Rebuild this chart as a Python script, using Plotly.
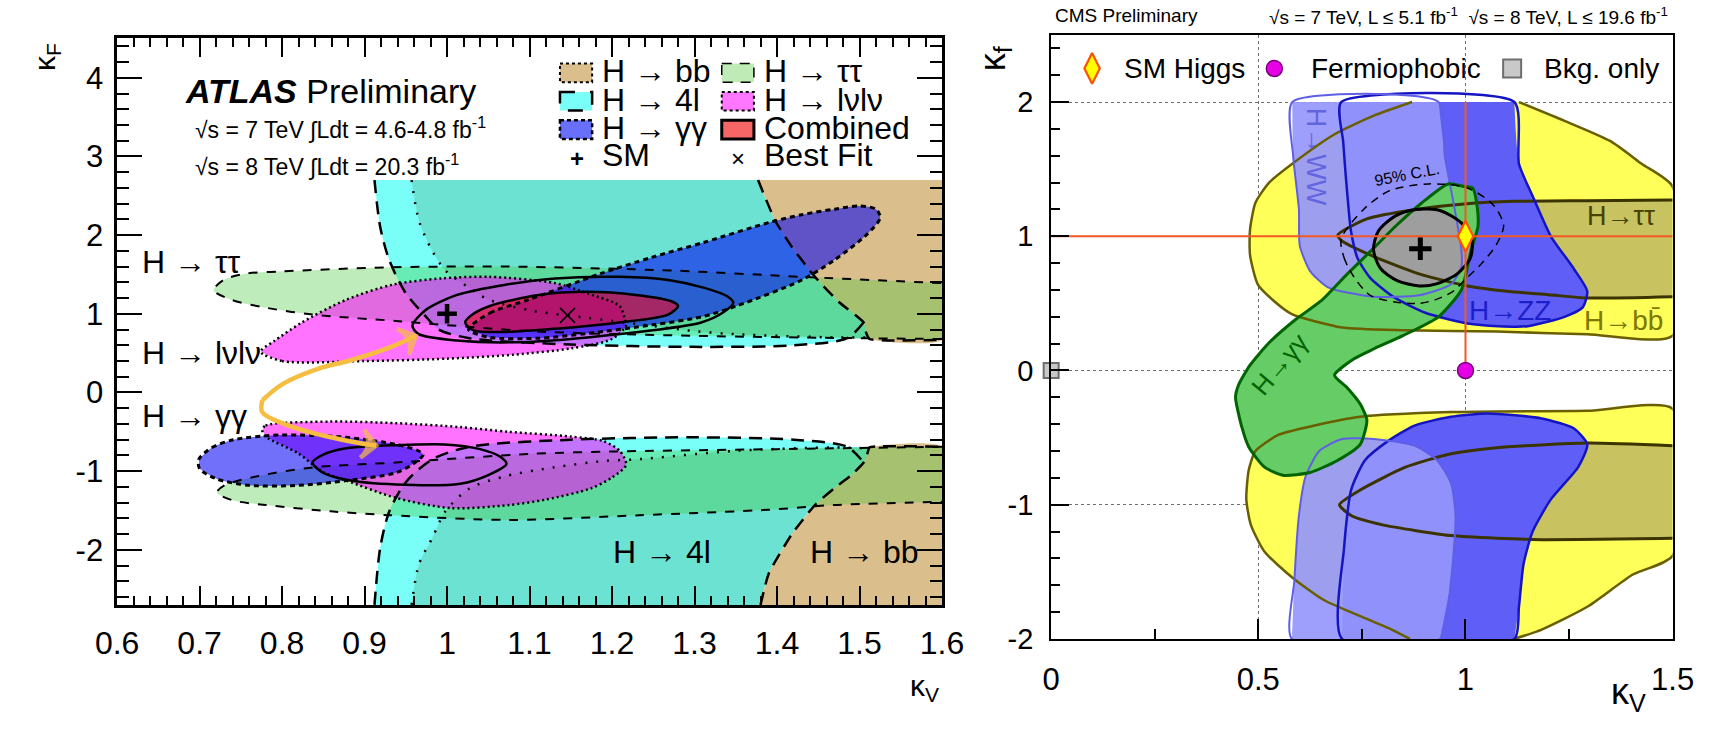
import plotly.graph_objects as go

W, H = 1731, 729
FONT = "Liberation Sans, Arial, sans-serif"

# ---------------- ATLAS: kappa_V (x) vs kappa_F (y) contour vertices ----------------
ATLAS_BB_UP = [(1.377, 2.70), (1.398, 2.18), (1.418, 1.85), (1.446, 1.47), (1.475, 1.15),
               (1.505, 0.89), (1.508, 0.76), (1.512, 0.68), (1.600, 0.67)]
ATLAS_BB_DN = [(1.380, -2.70), (1.390, -2.30), (1.418, -1.80), (1.446, -1.43), (1.469, -1.22),
               (1.490, -1.05), (1.505, -0.89), (1.510, -0.76), (1.512, -0.70), (1.600, -0.69)]
ATLAS_4L95_UP = [(0.912, 2.70), (0.919, 2.10), (0.930, 1.68), (0.950, 1.26), (0.973, 0.98),
                 (0.990, 0.80), (1.027, 0.69), (1.150, 0.61), (1.296, 0.58), (1.420, 0.60),
                 (1.485, 0.69), (1.505, 0.89)]
ATLAS_4L95_DN = [(0.912, -2.70), (0.919, -1.97), (0.930, -1.51), (0.950, -1.14), (0.982, -0.85),
                 (1.027, -0.69), (1.150, -0.60), (1.296, -0.57), (1.420, -0.60), (1.485, -0.69),
                 (1.505, -0.89)]
ATLAS_4L68_UP = [(0.957, 2.70), (0.966, 2.18), (0.982, 1.80), (0.998, 1.55), (1.024, 1.35),
                 (1.050, 1.18), (1.103, 1.04), (1.170, 0.95), (1.230, 0.87), (1.300, 0.78),
                 (1.351, 0.74), (1.469, 0.70), (1.510, 0.70)]
ATLAS_4L68_DN = [(0.957, -2.70), (0.966, -2.18), (0.982, -1.85), (0.998, -1.51), (1.027, -1.22),
                 (1.072, -1.06), (1.130, -0.95), (1.190, -0.87), (1.229, -0.85), (1.351, -0.74),
                 (1.469, -0.70), (1.510, -0.71)]
ATLAS_TT_UP = [(1.600, 0.68), (1.500, 0.69), (1.300, 0.72), (1.100, 0.78), (0.937, 0.91),
               (0.837, 0.99), (0.779, 1.08), (0.738, 1.18), (0.717, 1.30), (0.729, 1.43),
               (0.756, 1.51), (0.801, 1.54), (0.925, 1.59), (1.075, 1.60), (1.273, 1.55),
               (1.430, 1.47), (1.600, 1.39)]
ATLAS_TT_DN = [(1.600, -0.69), (1.400, -0.72), (1.200, -0.75), (1.100, -0.78), (0.938, -0.89),
               (0.839, -0.95), (0.772, -1.06), (0.730, -1.18), (0.721, -1.27), (0.740, -1.37),
               (0.780, -1.43), (0.859, -1.51), (0.930, -1.56), (1.075, -1.62), (1.233, -1.56),
               (1.390, -1.49), (1.469, -1.43), (1.600, -1.39)]
ATLAS_LL_UP = [(0.774, 0.52), (0.800, 0.40), (0.900, 0.40), (1.000, 0.43), (1.080, 0.48),
               (1.150, 0.56), (1.200, 0.68), (1.217, 0.85), (1.215, 0.95), (1.209, 1.10),
               (1.170, 1.26), (1.131, 1.39), (1.052, 1.47), (0.993, 1.45), (0.934, 1.37),
               (0.878, 1.18), (0.824, 0.89), (0.790, 0.65)]
ATLAS_LL_DN = [(0.776, -0.48), (0.780, -0.42), (0.859, -0.37), (0.938, -0.39), (1.016, -0.44),
               (1.075, -0.50), (1.150, -0.56), (1.190, -0.62), (1.210, -0.75), (1.217, -0.92),
               (1.200, -1.08), (1.174, -1.22), (1.120, -1.36), (1.075, -1.43), (1.005, -1.47),
               (0.938, -1.34), (0.878, -1.12), (0.851, -1.02), (0.819, -0.77), (0.780, -0.56)]
ATLAS_GG_UP = [(1.026, 0.80), (1.052, 1.01), (1.099, 1.18), (1.186, 1.51), (1.249, 1.72),
               (1.312, 1.91), (1.390, 2.16), (1.430, 2.26), (1.470, 2.33), (1.500, 2.37),
               (1.520, 2.33), (1.525, 2.22), (1.509, 2.01), (1.469, 1.68), (1.430, 1.43),
               (1.351, 1.10), (1.308, 0.96), (1.249, 0.86), (1.170, 0.75), (1.111, 0.69),
               (1.052, 0.70)]
ATLAS_GG_DN = [(0.699, -0.85), (0.715, -0.70), (0.741, -0.60), (0.800, -0.54), (0.878, -0.57),
               (0.938, -0.66), (0.965, -0.74), (0.971, -0.79), (0.960, -0.90), (0.938, -1.02),
               (0.878, -1.12), (0.819, -1.18), (0.760, -1.18), (0.721, -1.10), (0.700, -0.97)]
ATLAS_COMB95_UP = [(0.958, 0.85), (0.973, 1.04), (1.012, 1.24), (1.071, 1.37), (1.131, 1.45),
                   (1.209, 1.47), (1.268, 1.43), (1.312, 1.33), (1.340, 1.22), (1.347, 1.14),
                   (1.335, 1.02), (1.308, 0.89), (1.249, 0.79), (1.170, 0.70), (1.091, 0.64),
                   (1.012, 0.66), (0.965, 0.745)]
ATLAS_COMB68_UP = [(1.022, 0.89), (1.032, 1.00), (1.052, 1.10), (1.111, 1.24), (1.170, 1.28),
                   (1.229, 1.24), (1.272, 1.16), (1.280, 1.10), (1.268, 0.99), (1.209, 0.89),
                   (1.131, 0.81), (1.071, 0.77), (1.032, 0.79)]
ATLAS_COMB95_DN = [(0.837, -0.89), (0.850, -0.79), (0.878, -0.71), (0.938, -0.67), (0.997, -0.66),
                   (1.040, -0.72), (1.065, -0.82), (1.072, -0.91), (1.050, -1.05), (1.016, -1.16),
                   (0.938, -1.17), (0.878, -1.11), (0.848, -1.01)]
# orange connector: two branches leaving the loop of the "S"
ATLAS_ARROW_UP = [(0.776, -0.10), (0.801, 0.11), (0.846, 0.31), (0.880, 0.40), (0.925, 0.55),
                  (0.950, 0.66), (0.962, 0.72)]
ATLAS_ARROW_DN = [(0.776, -0.10), (0.776, -0.25), (0.800, -0.39), (0.839, -0.52), (0.882, -0.62),
                  (0.900, -0.655), (0.914, -0.675)]
ATLAS_SM = (1.0, 1.0)
ATLAS_BEST = (1.146, 0.98)

ATLAS_XTICKS = [0.6, 0.7, 0.8, 0.9, 1.0, 1.1, 1.2, 1.3, 1.4, 1.5, 1.6]
ATLAS_XLABELS = ["0.6", "0.7", "0.8", "0.9", "1", "1.1", "1.2", "1.3", "1.4", "1.5", "1.6"]
ATLAS_YTICKS = [-2, -1, 0, 1, 2, 3, 4]
ATLAS_YLABELS = ["-2", "-1", "0", "1", "2", "3", "4"]

# ---------------- CMS: kappa_V (x) vs kappa_f (y) contour vertices ----------------
CMS_BB_UP = [(1.129, 2.00), (1.239, 1.86), (1.349, 1.71), (1.425, 1.54), (1.500, 1.37),
             (1.500, 0.26), (1.294, 0.27), (1.075, 0.29), (0.855, 0.30), (0.702, 0.32),
             (0.581, 0.42), (0.537, 0.52), (0.499, 0.64), (0.480, 0.86), (0.480, 1.05),
             (0.493, 1.25), (0.526, 1.40), (0.582, 1.54), (0.684, 1.76), (0.780, 1.90),
             (0.871, 2.00)]
CMS_BB_DN = [(1.118, -2.00), (1.184, -1.93), (1.294, -1.76), (1.404, -1.52), (1.500, -1.38),
             (1.500, -0.285), (1.294, -0.30), (0.965, -0.31), (0.746, -0.345), (0.636, -0.41),
             (0.548, -0.48), (0.493, -0.60), (0.477, -0.74), (0.471, -0.96), (0.482, -1.15),
             (0.515, -1.35), (0.581, -1.54), (0.658, -1.71), (0.746, -1.83), (0.822, -1.93),
             (0.866, -2.00)]
CMS_TT_UP = [(1.500, 1.27), (1.294, 1.265), (1.115, 1.26), (0.997, 1.24), (0.880, 1.20),
             (0.762, 1.13), (0.692, 1.01), (0.700, 0.97), (0.778, 0.85), (0.888, 0.72),
             (1.005, 0.63), (1.100, 0.59), (1.200, 0.565), (1.294, 0.54), (1.500, 0.55)]
CMS_TT_DN = [(1.500, -0.56), (1.294, -0.54), (1.075, -0.575), (0.965, -0.62), (0.855, -0.72),
             (0.746, -0.89), (0.696, -1.00), (0.724, -1.08), (0.800, -1.15), (0.965, -1.23),
             (1.075, -1.25), (1.184, -1.26), (1.500, -1.25)]
CMS_WW_UP = [(0.582, 2.00), (0.584, 1.60), (0.598, 1.20), (0.600, 0.93), (0.625, 0.74),
             (0.668, 0.62), (0.778, 0.55), (0.888, 0.56), (0.966, 0.645), (0.990, 0.77),
             (0.990, 0.90), (0.974, 1.20), (0.950, 1.60), (0.935, 2.00)]
CMS_WW_DN = [(0.581, -2.00), (0.587, -1.565), (0.598, -1.08), (0.614, -0.79), (0.647, -0.60),
             (0.702, -0.51), (0.779, -0.51), (0.877, -0.56), (0.932, -0.67), (0.965, -0.84),
             (0.976, -1.08), (0.965, -1.565), (0.938, -2.00)]
CMS_ZZ_UP = [(0.700, 2.00), (0.705, 1.70), (0.711, 1.45), (0.718, 1.20), (0.723, 1.05),
             (0.739, 0.84), (0.770, 0.69), (0.825, 0.55), (0.903, 0.43), (1.005, 0.35),
             (1.080, 0.33), (1.150, 0.33), (1.239, 0.40), (1.283, 0.47), (1.294, 0.59),
             (1.261, 0.76), (1.206, 1.00), (1.162, 1.30), (1.129, 1.54), (1.118, 2.00)]
CMS_ZZ_DN = [(0.702, -2.00), (0.707, -1.32), (0.724, -0.89), (0.757, -0.67), (0.811, -0.53),
             (0.877, -0.41), (0.965, -0.345), (1.053, -0.32), (1.184, -0.357), (1.261, -0.43),
             (1.294, -0.55), (1.272, -0.72), (1.206, -0.96), (1.162, -1.20), (1.140, -1.445),
             (1.129, -1.76), (1.118, -2.00)]
CMS_GG = [(0.958, 1.39), (0.997, 1.37), (1.017, 1.36), (1.029, 1.20), (1.030, 1.07),
          (1.013, 0.89), (0.990, 0.60), (0.935, 0.40), (0.849, 0.26), (0.778, 0.16),
          (0.731, 0.087), (0.684, -0.035), (0.715, -0.13), (0.746, -0.25), (0.762, -0.37),
          (0.746, -0.55), (0.691, -0.67), (0.625, -0.76), (0.559, -0.78), (0.515, -0.72),
          (0.477, -0.57), (0.461, -0.43), (0.445, -0.20), (0.452, -0.11), (0.480, 0.04),
          (0.527, 0.21), (0.590, 0.38), (0.652, 0.52), (0.715, 0.72), (0.778, 0.91),
          (0.833, 1.08), (0.895, 1.25)]
CMS_COMB68 = [(0.778, 0.90), (0.790, 1.04), (0.830, 1.15), (0.880, 1.20), (0.940, 1.19),
              (0.990, 1.10), (1.015, 0.98), (1.012, 0.84), (0.980, 0.72), (0.930, 0.645),
              (0.888, 0.63), (0.835, 0.67), (0.795, 0.76)]
CMS_COMB95 = [(0.700, 0.98), (0.707, 0.84), (0.730, 0.70), (0.770, 0.56), (0.830, 0.51),
              (0.888, 0.50), (0.930, 0.53), (0.970, 0.59), (1.000, 0.68), (1.040, 0.80),
              (1.075, 0.94), (1.092, 1.08), (1.068, 1.23), (1.005, 1.36), (0.911, 1.39),
              (0.817, 1.34), (0.754, 1.20)]
CMS_SM = (1.0, 1.0)
CMS_FERMIOPHOBIC = (1.0, 0.0)
CMS_BKG = (0.0, 0.0)
CMS_BEST = (0.891, 0.907)

CMS_XTICKS = [0, 0.5, 1, 1.5]
CMS_XLABELS = ["0", "0.5", "1", "1.5"]
CMS_YTICKS = [-2, -1, 0, 1, 2]
CMS_YLABELS = ["-2", "-1", "0", "1", "2"]

# ---------------- colours ----------------
C_BB = "rgb(218,190,140)"
C_4L95 = "rgb(122,255,248)"
C_4L68 = "rgb(108,226,210)"
C_TT = "rgba(70,200,60,0.35)"
C_LL = "rgba(255,0,255,0.55)"
C_GG = "rgba(0,0,246,0.56)"
C_COMB = "rgba(235,10,40,0.64)"
C_ARROW = "rgb(246,189,65)"

Y_BB = "rgb(255,255,90)"
Y_BB_LINE = "rgb(105,95,0)"
Y_TT = "rgb(200,194,96)"
Y_TT_LINE = "rgb(60,52,0)"
Y_WW = "rgba(150,150,252,0.92)"
Y_WW_LINE = "rgb(95,95,230)"
Y_ZZ = "rgb(95,95,248)"
Y_ZZ_LINE = "rgb(20,20,195)"
Y_GG = "rgb(102,204,102)"
Y_GG_LINE = "rgb(0,100,0)"
Y_COMB = "rgb(158,158,158)"
Y_RED = "rgb(242,88,36)"


def xs(pts):
    return [p[0] for p in pts]


def ys(pts):
    return [p[1] for p in pts]


def loop(pts):
    return list(pts) + [pts[0]]


fig = go.Figure()


def add_fill(pts, color, panel, smooth=0.8):
    xa, ya = ("x", "y") if panel == 1 else ("x2", "y2")
    fig.add_trace(go.Scatter(x=xs(pts), y=ys(pts), mode="lines", fill="toself", fillcolor=color,
                             line=dict(width=0, shape="spline", smoothing=smooth),
                             hoverinfo="skip", xaxis=xa, yaxis=ya))


def add_line(pts, color, width, dash, panel, smooth=0.8):
    xa, ya = ("x", "y") if panel == 1 else ("x2", "y2")
    fig.add_trace(go.Scatter(x=xs(pts), y=ys(pts), mode="lines",
                             line=dict(color=color, width=width, dash=dash, shape="spline",
                                       smoothing=smooth),
                             hoverinfo="skip", xaxis=xa, yaxis=ya))


# ---- ATLAS fills ----
add_fill(ATLAS_4L95_UP + [p for p in reversed(ATLAS_BB_UP) if p[1] > 0.89], C_4L95, 1)
add_fill(ATLAS_4L95_DN + [p for p in reversed(ATLAS_BB_DN) if p[1] < -0.89], C_4L95, 1)
add_fill(ATLAS_4L68_UP + [p for p in reversed(ATLAS_BB_UP) if p[1] > 0.72], C_4L68, 1)
add_fill(ATLAS_4L68_DN + [p for p in reversed(ATLAS_BB_DN) if p[1] < -0.72], C_4L68, 1)
add_fill(ATLAS_BB_UP + [(1.6, 2.7)], C_BB, 1, 0.5)
add_fill(ATLAS_BB_DN + [(1.6, -2.7)], C_BB, 1, 0.5)
add_fill(ATLAS_TT_UP, C_TT, 1)
add_fill(ATLAS_TT_DN, C_TT, 1)
add_fill(ATLAS_LL_UP, C_LL, 1)
add_fill(ATLAS_LL_DN, C_LL, 1)
add_fill(ATLAS_GG_UP, C_GG, 1)
add_fill(ATLAS_GG_DN, C_GG, 1)
add_fill(ATLAS_COMB68_UP, C_COMB, 1)

# ---- ATLAS outlines ----
add_line(ATLAS_BB_UP, "black", 2.5, "13px,8px", 1, 0.5)
add_line(ATLAS_BB_DN, "black", 2.5, "13px,8px", 1, 0.5)
add_line(ATLAS_4L95_UP, "black", 2.5, "13px,8px", 1)
add_line(ATLAS_4L95_DN, "black", 2.5, "13px,8px", 1)
add_line(ATLAS_4L68_UP, "black", 2.5, "2px,9px", 1)
add_line(ATLAS_4L68_DN, "black", 2.5, "2px,9px", 1)
add_line(ATLAS_TT_UP, "black", 2, "9px,9px", 1)
add_line(ATLAS_TT_DN, "black", 2, "9px,9px", 1)
add_line(loop(ATLAS_LL_UP), "black", 2.5, "2px,3px", 1)
add_line(loop(ATLAS_LL_DN), "black", 2.5, "2px,3px", 1)
add_line(loop(ATLAS_GG_UP), "black", 3, "5px,4px", 1)
add_line(loop(ATLAS_GG_DN), "black", 3, "5px,4px", 1)
add_line(loop(ATLAS_COMB95_UP), "black", 2.5, "solid", 1)
add_line(loop(ATLAS_COMB68_UP), "black", 2.5, "solid", 1)
add_line(loop(ATLAS_COMB95_DN), "black", 2.5, "solid", 1)

# orange connector with an open chevron at the far end of each branch
for branch in (ATLAS_ARROW_UP, ATLAS_ARROW_DN):
    n = len(branch)
    fig.add_trace(go.Scatter(
        x=xs(branch), y=ys(branch), mode="lines+markers",
        line=dict(color=C_ARROW, width=4.5, shape="spline", smoothing=1.0),
        marker=dict(symbol="arrow-wide-open", angleref="previous", size=[0] * (n - 1) + [20],
                    color=C_ARROW, line=dict(width=4.5, color=C_ARROW)),
        hoverinfo="skip", xaxis="x", yaxis="y"))

fig.add_trace(go.Scatter(x=[ATLAS_SM[0]], y=[ATLAS_SM[1]], mode="markers",
                         marker=dict(symbol="cross-thin", size=14, line=dict(width=4.5, color="black")),
                         hoverinfo="skip", xaxis="x", yaxis="y"))
fig.add_trace(go.Scatter(x=[ATLAS_BEST[0]], y=[ATLAS_BEST[1]], mode="markers",
                         marker=dict(symbol="x-thin", size=15, line=dict(width=1.6, color="black")),
                         hoverinfo="skip", xaxis="x", yaxis="y"))

# ---- CMS fills ----
add_fill(CMS_BB_UP, Y_BB, 2, 0.6)
add_fill(CMS_BB_DN, Y_BB, 2, 0.6)
add_fill(CMS_TT_UP, Y_TT, 2, 0.6)
add_fill(CMS_TT_DN, Y_TT, 2, 0.6)
add_fill(CMS_ZZ_UP, Y_ZZ, 2, 0.6)
add_fill(CMS_ZZ_DN, Y_ZZ, 2, 0.6)
add_fill(CMS_WW_UP, Y_WW, 2, 0.6)
add_fill(CMS_WW_DN, Y_WW, 2, 0.6)
add_fill(CMS_GG, Y_GG, 2, 0.6)
add_fill(CMS_COMB68, Y_COMB, 2)

# ---- CMS outlines ----
add_line(CMS_BB_UP, Y_BB_LINE, 2.5, "solid", 2, 0.6)
add_line(CMS_BB_DN, Y_BB_LINE, 2.5, "solid", 2, 0.6)
add_line(CMS_TT_UP, Y_TT_LINE, 3, "solid", 2, 0.6)
add_line(CMS_TT_DN, Y_TT_LINE, 3, "solid", 2, 0.6)
add_line(loop(CMS_ZZ_UP), Y_ZZ_LINE, 2.5, "solid", 2, 0.6)
add_line(loop(CMS_ZZ_DN), Y_ZZ_LINE, 2.5, "solid", 2, 0.6)
add_line(loop(CMS_WW_UP), Y_WW_LINE, 2, "solid", 2, 0.6)
add_line(loop(CMS_WW_DN), Y_WW_LINE, 2, "solid", 2, 0.6)
add_line(loop(CMS_GG), Y_GG_LINE, 3, "solid", 2, 0.6)
add_line(loop(CMS_COMB68), "black", 3, "solid", 2)
add_line(loop(CMS_COMB95), "black", 1.5, "8px,6px", 2)

# SM reference lines
fig.add_trace(go.Scatter(x=[0, 1.5], y=[CMS_SM[1], CMS_SM[1]], mode="lines",
                         line=dict(color=Y_RED, width=2), hoverinfo="skip", xaxis="x2", yaxis="y2"))
fig.add_trace(go.Scatter(x=[CMS_SM[0], CMS_FERMIOPHOBIC[0]], y=[2.0, CMS_FERMIOPHOBIC[1]], mode="lines",
                         line=dict(color=Y_RED, width=2), hoverinfo="skip", xaxis="x2", yaxis="y2"))
fig.add_trace(go.Scatter(x=[CMS_BEST[0]], y=[CMS_BEST[1]], mode="markers",
                         marker=dict(symbol="cross-thin", size=16, line=dict(width=5, color="black")),
                         hoverinfo="skip", xaxis="x2", yaxis="y2"))

SM_MARK = dict(symbol="diamond-tall", size=22, color="rgb(255,255,0)", line=dict(width=2.2, color="rgb(255,80,0)"))
FP_MARK = dict(symbol="circle", size=16, color="rgb(230,0,230)", line=dict(width=1.5, color="rgb(120,0,120)"))
BKG_MARK = dict(symbol="square", size=15, color="rgb(200,200,200)", line=dict(width=2, color="rgb(110,110,110)"))

fig.add_trace(go.Scatter(x=[CMS_SM[0]], y=[CMS_SM[1]], mode="markers", marker=SM_MARK,
                         hoverinfo="skip", xaxis="x2", yaxis="y2"))
fig.add_trace(go.Scatter(x=[CMS_FERMIOPHOBIC[0]], y=[CMS_FERMIOPHOBIC[1]], mode="markers", marker=FP_MARK,
                         hoverinfo="skip", xaxis="x2", yaxis="y2"))
fig.add_trace(go.Scatter(x=[CMS_BKG[0]], y=[CMS_BKG[1]], mode="markers", marker=BKG_MARK, cliponaxis=False,
                         hoverinfo="skip", xaxis="x2", yaxis="y2"))

# ---------------- geometry helpers (page pixels -> paper / data) ----------------
A_X0, A_X1, A_Y0, A_Y1 = 97.6, 944.0, 618.5, 39.3      # ATLAS frame in pixels
C_X0, C_X1, C_Y0, C_Y1 = 1056.0, 1693.7, 653.3, 35.7   # CMS frame in pixels


def px(x):
    return x / W


def py(y):
    return 1 - y / H


def cms_dx(xp):
    return (xp - C_X0) / (C_X1 - C_X0) * 1.5


def cms_dy(yp):
    return -2 + (C_Y0 - yp) / (C_Y0 - C_Y1) * 4.5


# CMS legend markers
LEG_Y = 70
for xp, mk in [(1098, SM_MARK), (1285, FP_MARK), (1529, dict(BKG_MARK, size=18))]:
    fig.add_trace(go.Scatter(x=[cms_dx(xp)], y=[cms_dy(LEG_Y)], mode="markers", marker=mk,
                             hoverinfo="skip", xaxis="x2", yaxis="y2"))

annotations = []


def ann(text, x, y, size, xanchor="left", yanchor="middle", color="black", angle=0, ref="paper"):
    if ref == "paper":
        d = dict(xref="paper", yref="paper", x=px(x), y=py(y))
    else:
        d = dict(xref=ref[0], yref=ref[1], x=x, y=y)
    d.update(text=text, showarrow=False, xanchor=xanchor, yanchor=yanchor, textangle=angle,
             font=dict(family=FONT, size=size, color=color))
    annotations.append(d)


# ATLAS labels
ann("<b><i>ATLAS</i></b> Preliminary", 165, 93, 34)
ann("√s = 7 TeV ∫Ldt = 4.6-4.8 fb<sup>-1</sup>", 175, 131, 23)
ann("√s = 8 TeV ∫Ldt = 20.3 fb<sup>-1</sup>", 175, 169, 23)
ann("H → ττ", 121, 268, 32)
ann("H → lνlν", 121, 361, 32)
ann("H → γγ", 121, 425, 32)
ann("H → 4l", 604, 564, 32)
ann("H → bb", 807, 564, 32)
ann("κ<sub>V</sub>", 926, 703, 30, xanchor="center")
ann("κ<sub>F</sub>", 25, 58, 30, xanchor="center", angle=-90)

# ATLAS legend
LEG_ROWS = [75, 104, 133, 162]
LEG_COL = [(552, 593), (718, 759)]
legend_items = [
    (0, 0, "H → bb", C_BB, "dot", 2),
    (1, 0, "H → ττ", "rgb(190,235,182)", "10px,8px", 1.5),
    (0, 1, "H → 4l", C_4L95, "longdash", 2.5),
    (1, 1, "H → lνlν", "rgb(255,118,255)", "dot", 2),
    (0, 2, "H → γγ", "rgb(104,112,250)", "4px,3px", 2.5),
    (1, 2, "Combined", "rgb(246,102,102)", "solid", 3),
]
shapes = []
for col, row, label, color, dash, lw in legend_items:
    x0, xt = LEG_COL[col]
    yc = LEG_ROWS[row]
    shapes.append(dict(type="rect", xref="paper", yref="paper", x0=px(x0), x1=px(x0 + 33),
                       y0=py(yc - 10), y1=py(yc + 9), fillcolor=color,
                       line=dict(color="black", width=lw, dash=dash), layer="above"))
    ann(label, xt, yc - 2, 32)
ann("<b>+</b>", 569, LEG_ROWS[3], 24, xanchor="center")
ann("SM", 593, LEG_ROWS[3] - 4, 32)
ann("×", 735, LEG_ROWS[3], 24, xanchor="center")
ann("Best Fit", 759, LEG_ROWS[3] - 4, 32)

# CMS labels
ann("CMS Preliminary", 1058, 16, 19)
ann("√s = 7 TeV, L ≤ 5.1 fb<sup>-1</sup>  √s = 8 TeV, L ≤ 19.6 fb<sup>-1</sup>", 1691, 16, 19,
    xanchor="right")
ann("SM Higgs", 1129, LEG_Y, 28)
ann("Fermiophobic", 1321, LEG_Y, 28)
ann("Bkg. only", 1560, LEG_Y, 28)
ann("κ<sub>V</sub>", 1648, 710, 36, xanchor="center")
ann("κ<sub>f</sub>", 998, 60, 36, xanchor="center", angle=-90)
ann("H→ττ", 1.376, 1.15, 27, xanchor="center", color="rgb(70,66,0)", ref=("x2", "y2"))
ann("H→bb\u0304", 1.382, 0.37, 28, xanchor="center", color="rgb(125,120,0)", ref=("x2", "y2"))
ann("H→ZZ", 1.108, 0.45, 28, xanchor="center", color="rgb(30,30,200)", ref=("x2", "y2"))
ann("H→WW", 0.640, 1.59, 27, xanchor="center", color="rgb(100,100,225)", angle=90, ref=("x2", "y2"))
ann("H→γγ", 0.552, 0.05, 26, xanchor="center", color="rgb(0,100,0)", angle=-50, ref=("x2", "y2"))
ann("95% C.L.", 0.859, 1.46, 16, xanchor="center", angle=-11, ref=("x2", "y2"))

axis_common = dict(showline=True, linecolor="black", zeroline=False, ticks="inside",
                   tickcolor="black", tickfont=dict(family=FONT, size=30, color="black"))

fig.update_layout(
    width=W, height=H, margin=dict(l=0, r=0, t=0, b=0),
    paper_bgcolor="white", plot_bgcolor="white", showlegend=False,
    font=dict(family=FONT, color="black"),
    xaxis=dict(axis_common, domain=[px(A_X0), px(A_X1)], range=[0.6, 1.6], anchor="y",
               tickvals=ATLAS_XTICKS, ticktext=ATLAS_XLABELS, ticklen=19, tickwidth=2,
               linewidth=2.5, mirror="allticks", showgrid=False, ticklabelstandoff=8,
               tickfont=dict(family=FONT, size=32, color="black"),
               minor=dict(dtick=0.02, tick0=0.6, ticklen=9, tickwidth=1.5, ticks="inside",
                          tickcolor="black", showgrid=False)),
    yaxis=dict(axis_common, domain=[py(A_Y0), py(A_Y1)], range=[-2.7, 4.5], anchor="x",
               tickvals=ATLAS_YTICKS, ticktext=ATLAS_YLABELS, ticklen=25, tickwidth=2,
               linewidth=2.5, mirror="allticks", showgrid=False, ticklabelstandoff=5,
               tickfont=dict(family=FONT, size=31, color="black"),
               minor=dict(dtick=0.2, tick0=0, ticklen=12, tickwidth=1.5, ticks="inside",
                          tickcolor="black", showgrid=False)),
    xaxis2=dict(axis_common, domain=[px(C_X0), px(C_X1)], range=[0, 1.5], anchor="y2",
                tickvals=CMS_XTICKS, ticktext=CMS_XLABELS, ticklen=20, tickwidth=1.5,
                linewidth=2, mirror=True, showgrid=True, griddash="dot", gridcolor="rgb(110,110,110)",
                gridwidth=1.2, ticklabelstandoff=12, layer="above traces",
                tickfont=dict(family=FONT, size=31, color="black"),
                minor=dict(dtick=0.25, ticklen=10, tickwidth=1.5, ticks="inside",
                           tickcolor="black", showgrid=False)),
    yaxis2=dict(axis_common, domain=[py(C_Y0), py(C_Y1)], range=[-2, 2.5], anchor="x2",
                tickvals=CMS_YTICKS, ticktext=CMS_YLABELS, ticklen=18, tickwidth=1.5,
                linewidth=2, mirror=True, showgrid=True, griddash="dot", gridcolor="rgb(110,110,110)",
                gridwidth=1.2, ticklabelstandoff=10,
                tickfont=dict(family=FONT, size=29, color="black"),
                minor=dict(dtick=0.2, ticklen=9, tickwidth=1.5, ticks="inside",
                           tickcolor="black", showgrid=False)),
    annotations=annotations,
    shapes=shapes,
)

fig.write_html("out.html")
